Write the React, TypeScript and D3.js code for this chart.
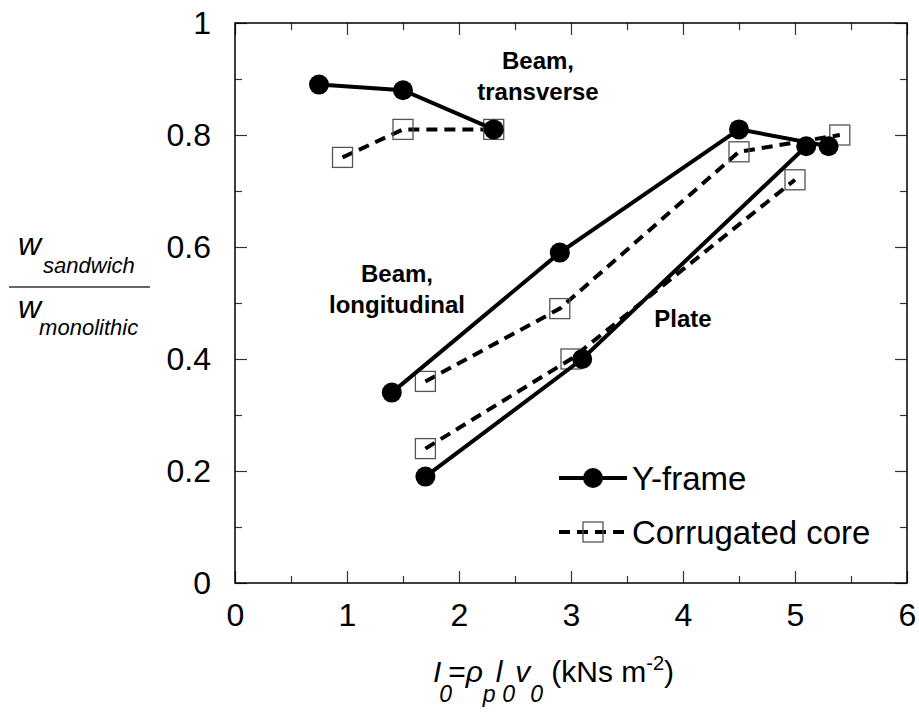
import React, { useEffect, useRef } from "react";
import * as d3 from "d3";

// [impulse I0 (kNs m^-2), w_sandwich / w_monolithic]
const yFrameTransverse: [number, number][] = [[0.75, 0.89], [1.5, 0.88], [2.31, 0.81]];
const corrTransverse: [number, number][] = [[0.96, 0.76], [1.5, 0.81], [2.31, 0.81]];
const yFrameLongitudinal: [number, number][] = [[1.4, 0.34], [2.9, 0.59], [4.5, 0.81], [5.3, 0.78]];
const corrLongitudinal: [number, number][] = [[1.7, 0.36], [2.9, 0.49], [4.5, 0.77], [5.4, 0.8]];
const yFramePlate: [number, number][] = [[1.7, 0.19], [3.1, 0.4], [5.1, 0.78]];
const corrPlate: [number, number][] = [[1.7, 0.24], [3.0, 0.4], [5.0, 0.72]];

const yFrameSeries = [yFrameTransverse, yFrameLongitudinal, yFramePlate];
const corrSeries = [corrTransverse, corrLongitudinal, corrPlate];

const xMajor = [0, 1, 2, 3, 4, 5, 6];
const xMinor = [0.5, 1.5, 2.5, 3.5, 4.5, 5.5];
const yMajor = [0, 0.2, 0.4, 0.6, 0.8, 1];
const yMinor = [0.1, 0.3, 0.5, 0.7, 0.9];

const legendLabels = ["Y-frame", "Corrugated core"];

const FONT = "'Liberation Sans', Arial, Helvetica, sans-serif";

export default function App() {
  const ref = useRef<SVGSVGElement>(null);

  useEffect(() => {
    const width = 919;
    const height = 713;
    const margin = { top: 23, left: 235, bottom: 130, right: 12 };

    const svg = d3.select(ref.current);
    svg.selectAll("*").remove();

    const x = d3.scaleLinear().domain([0, 6]).range([margin.left, width - margin.right]);
    const y = d3.scaleLinear().domain([0, 1]).range([height - margin.bottom, margin.top]);

    // ticks on all four sides, pointing in
    const addAxis = (axis: any, tx: number, ty: number, labels: boolean) => {
      const g = svg.append("g").attr("transform", `translate(${tx},${ty})`).call(axis);
      g.select(".domain").remove();
      g.selectAll(".tick line").attr("stroke", "#333").attr("stroke-width", 1.2);
      g.selectAll(".tick text")
        .attr("font-family", FONT)
        .attr("font-size", 32)
        .attr("fill", "#000");
      if (!labels) g.selectAll(".tick text").remove();
      return g;
    };
    const fmt = (d: any) => (d === 0 || d === 1 ? String(d) : d3.format(".1f")(d));

    const bottom = addAxis(
      d3.axisBottom(x).tickValues(xMajor).tickSize(-12).tickPadding(20).tickFormat((d: any) => String(d)),
      0, y(0), true
    );
    bottom.selectAll(".tick text").attr("dy", "0.71em");
    addAxis(d3.axisBottom(x).tickValues(xMinor).tickSize(-7), 0, y(0), false);
    addAxis(d3.axisTop(x).tickValues(xMajor).tickSize(-12), 0, y(1), false);
    addAxis(d3.axisTop(x).tickValues(xMinor).tickSize(-7), 0, y(1), false);
    addAxis(
      d3.axisLeft(y).tickValues(yMajor).tickSize(-12).tickPadding(24).tickFormat(fmt),
      x(0), 0, true
    );
    addAxis(d3.axisLeft(y).tickValues(yMinor).tickSize(-7), x(0), 0, false);
    addAxis(d3.axisRight(y).tickValues(yMajor).tickSize(-12), x(6), 0, false);
    addAxis(d3.axisRight(y).tickValues(yMinor).tickSize(-7), x(6), 0, false);

    svg.append("rect")
      .attr("x", x(0))
      .attr("y", y(1))
      .attr("width", x(6) - x(0))
      .attr("height", y(0) - y(1))
      .attr("fill", "none")
      .attr("stroke", "#000")
      .attr("stroke-width", 1.5);

    const line = d3.line<[number, number]>().x(d => x(d[0])).y(d => y(d[1]));
    const sq = 20;

    // corrugated core: dashed line, open squares
    corrSeries.forEach(s => {
      svg.append("path")
        .attr("d", line(s))
        .attr("fill", "none")
        .attr("stroke", "#000")
        .attr("stroke-width", 4)
        .attr("stroke-dasharray", "11,7");
      svg.selectAll(null)
        .data(s)
        .enter()
        .append("rect")
        .attr("x", d => x(d[0]) - sq / 2)
        .attr("y", d => y(d[1]) - sq / 2)
        .attr("width", sq)
        .attr("height", sq)
        .attr("fill", "none")
        .attr("stroke", "#555")
        .attr("stroke-width", 1.3);
    });

    // Y-frame: solid line, filled circles
    yFrameSeries.forEach(s => {
      svg.append("path")
        .attr("d", line(s))
        .attr("fill", "none")
        .attr("stroke", "#000")
        .attr("stroke-width", 4);
      svg.selectAll(null)
        .data(s)
        .enter()
        .append("circle")
        .attr("cx", d => x(d[0]))
        .attr("cy", d => y(d[1]))
        .attr("r", 10)
        .attr("fill", "#000");
    });

    // annotations
    const note = (lines: string[], cx: number, by: number) => {
      const t = svg.append("text")
        .attr("font-family", FONT)
        .attr("font-weight", "bold")
        .attr("font-size", 24)
        .attr("text-anchor", "middle");
      lines.forEach((l, i) => t.append("tspan").attr("x", cx).attr("y", by + i * 31).text(l));
    };
    note(["Beam,", "transverse"], 538, 69);
    note(["Beam,", "longitudinal"], 397, 282);
    note(["Plate"], 683, 327);

    // legend
    const lg = svg.append("g").attr("transform", "translate(559,478)");
    legendLabels.forEach((label, i) => {
      const row = lg.append("g").attr("transform", `translate(0,${i * 54})`);
      row.append("line")
        .attr("x1", 0).attr("x2", 68)
        .attr("stroke", "#000")
        .attr("stroke-width", 4)
        .attr("stroke-dasharray", i === 0 ? null : "11,7");
      if (i === 0) {
        row.append("circle").attr("cx", 34).attr("r", 10).attr("fill", "#000");
      } else {
        row.append("rect")
          .attr("x", 34 - sq / 2).attr("y", -sq / 2)
          .attr("width", sq).attr("height", sq)
          .attr("fill", "none").attr("stroke", "#555").attr("stroke-width", 1.3);
      }
      row.append("text")
        .attr("x", 73)
        .attr("y", 12)
        .attr("font-family", FONT)
        .attr("font-size", 33)
        .text(label);
    });

    // y label as a fraction
    const yl = svg.append("g").attr("font-family", FONT).attr("font-style", "italic");
    const top = yl.append("text").attr("x", 18).attr("y", 255);
    top.append("tspan").attr("font-size", 32).text("w");
    top.append("tspan").attr("font-size", 22).attr("dy", 18).attr("dx", 2).text("sandwich");
    yl.append("line")
      .attr("x1", 9).attr("x2", 150).attr("y1", 287).attr("y2", 287)
      .attr("stroke", "#333").attr("stroke-width", 1.5);
    const bot = yl.append("text").attr("x", 18).attr("y", 318);
    bot.append("tspan").attr("font-size", 32).text("w");
    bot.append("tspan").attr("font-size", 22).attr("dy", 17).attr("dx", -2).text("monolithic");

    // x label: I0 = rho_p l0 v0 (kNs m^-2)
    const xl = svg.append("text")
      .attr("x", 433)
      .attr("y", 682)
      .attr("font-family", FONT)
      .attr("font-size", 30);
    const part = (txt: string, opts: { it?: boolean; size?: number; dy?: number; dx?: number }) => {
      const t = xl.append("tspan").text(txt);
      if (opts.it) t.attr("font-style", "italic");
      if (opts.size) t.attr("font-size", opts.size);
      if (opts.dy) t.attr("dy", opts.dy);
      if (opts.dx) t.attr("dx", opts.dx);
    };
    part("I", { it: true });
    part("0", { it: true, size: 23, dy: 20, dx: -2 });
    part("=", { dy: -20, dx: -4 });
    part("ρ", { it: true });
    part("p", { it: true, size: 23, dy: 20 });
    part("l", { it: true, dy: -20 });
    part("0", { it: true, size: 23, dy: 20 });
    part("v", { it: true, dy: -20 });
    part("0", { it: true, size: 23, dy: 20 });
    part(" (kNs m", { dy: -20 });
    part("-2", { size: 20, dy: -12 });
    part(")", { dy: 12 });
  }, []);

  return (
    <div style={{ position: "absolute", left: 0, top: 0 }}>
      <svg ref={ref} width={919} height={713} style={{ display: "block", background: "#fff" }} />
    </div>
  );
}
